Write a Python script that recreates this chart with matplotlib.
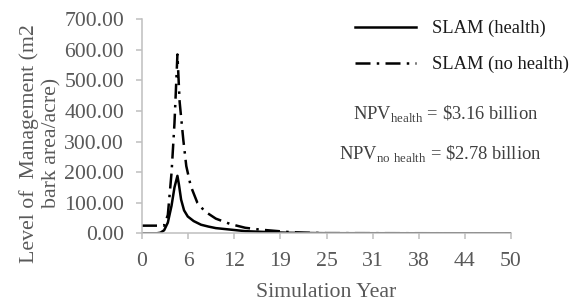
import numpy as np
import matplotlib.pyplot as plt
from matplotlib.ticker import FixedLocator, FormatStrFormatter

plt.rcParams['font.family'] = ['Liberation Serif', 'DejaVu Serif']
plt.rcParams['mathtext.fontset'] = 'custom'
plt.rcParams['mathtext.rm'] = 'Liberation Serif'

# --- Data ---
years_health = [0, 2, 2.5, 3, 3.5, 4, 4.4, 4.8, 5.0, 5.3, 5.7, 6.2, 7, 8, 9, 10,
                12, 14, 17, 20, 25, 50]
slam_health = [0, 0, 2, 10, 35, 90, 150, 188, 160, 110, 75, 55, 40, 28, 22, 17,
               12, 7, 4, 1.5, 0.3, 0]

years_nohealth = [0, 3.0, 3.5, 4.0, 4.4, 4.8, 5.1, 5.6, 6.0, 6.6, 7.5, 8.5, 10,
                  12, 14, 16, 18, 20, 22, 25, 50]
slam_nohealth = [25, 25, 60, 197, 360, 585, 430, 305, 220, 155, 100, 72, 48,
                 30, 18, 12, 8, 4, 2, 0.5, 0]

xtick_pos = [0, 6.25, 12.5, 18.75, 25, 31.25, 37.5, 43.75, 50]
xtick_labels = ['0', '6', '12', '19', '25', '31', '38', '44', '50']
yticks = [0, 100, 200, 300, 400, 500, 600, 700]

npv_health = r'NPV$_{\mathrm{health}}$ = \$3.16 billion'
npv_nohealth = r'NPV$_{\mathrm{no\ health}}$ = \$2.78 billion'

gray_axis = '#bfbfbf'
gray_text = '#595959'
big = 15.7
small = 13.3

fig = plt.figure(figsize=(5.8, 3.01), dpi=100)
ax = fig.add_axes([142 / 580, 1 - 233.3 / 301, (511 - 142) / 580, (233.3 - 19.3) / 301])

ax.plot(years_health, slam_health, color='black', lw=1.8, label='SLAM (health)')
ax.plot(years_nohealth, slam_nohealth, color='black', lw=1.8,
        linestyle=(0, (6, 2.5, 1, 2.5)), label='SLAM (no health)')

ax.set_xlim(0, 50)
ax.set_ylim(0, 700)
ax.xaxis.set_major_locator(FixedLocator(xtick_pos))
ax.set_xticklabels(xtick_labels)
ax.set_yticks(yticks)
ax.yaxis.set_major_formatter(FormatStrFormatter('%.2f'))

for side in ['top', 'right']:
    ax.spines[side].set_visible(False)
for side in ['left', 'bottom']:
    ax.spines[side].set_color(gray_axis)
    ax.spines[side].set_linewidth(1.1)

ax.tick_params(axis='y', length=4, width=1.1, color=gray_axis, pad=9,
               labelsize=big, labelcolor=gray_text)
ax.tick_params(axis='x', length=4.5, width=1.1, color=gray_axis, pad=9,
               labelsize=big, labelcolor=gray_text)

ax.set_xlabel('Simulation Year', fontsize=big, color=gray_text)
ax.xaxis.set_label_coords(0.5, -0.232)
ax.set_ylabel('Level of  Management (m2\nbark area/acre)', fontsize=big,
              color=gray_text, linespacing=1.2)
ax.yaxis.set_label_coords(-0.218, 0.42)

fig.legend(loc='upper left', bbox_to_anchor=(355 / 580, 1 - 20 / 301),
           frameon=False, fontsize=small, handlelength=3.3, handletextpad=0.85,
           labelspacing=1.0, borderpad=0, borderaxespad=0, labelcolor='#1a1a1a')

fig.text(446 / 580, 1 - 113 / 301, npv_health, fontsize=small, color='#404040',
         ha='center', va='center')
fig.text(440 / 580, 1 - 153 / 301, npv_nohealth, fontsize=small, color='#404040',
         ha='center', va='center')

fig.savefig('out.png', dpi=100)
